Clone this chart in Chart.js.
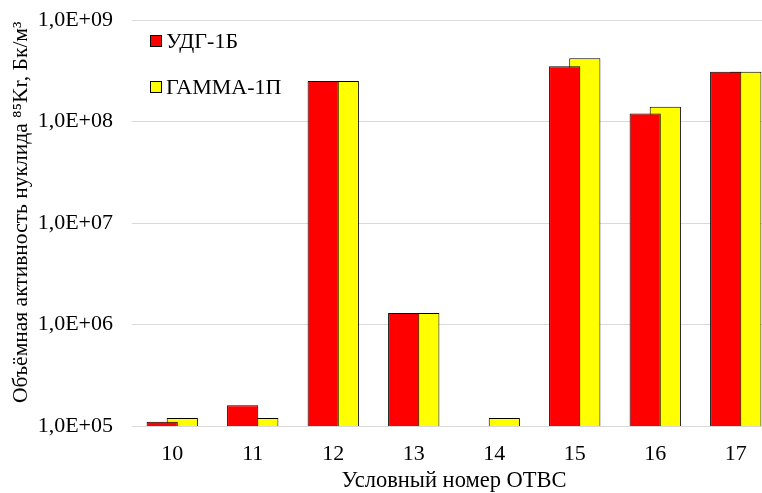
<!DOCTYPE html>
<html>
<head>
<meta charset="utf-8">
<script src="https://cdn.jsdelivr.net/npm/chart.js@4/dist/chart.umd.min.js"></script>
<style>
  html, body { margin: 0; padding: 0; background: #fff; overflow: hidden; }
  #wrap { width: 790px; height: 493px; position: relative; }
</style>
</head>
<body>
<div id="wrap"><canvas id="c"></canvas></div>
<script>
// Условные номера ОТВС
const categories = ['10', '11', '12', '13', '14', '15', '16', '17'];
// Объёмная активность 85Kr, Бк/м3
const udgValues   = [1.1e5, 1.6e5, 2.5e8, 1.3e6, 1.0e5, 3.5e8, 1.2e8, 3.1e8];
const gammaValues = [1.2e5, 1.2e5, 2.5e8, 1.3e6, 1.2e5, 4.2e8, 1.4e8, 3.1e8];
const seriesNames = ['УДГ-1Б', 'ГАММА-1П'];
// Деления логарифмической оси
const tickValues = [1e5, 1e6, 1e7, 1e8, 1e9];

const FONT = '"Liberation Serif", "Times New Roman", serif';
Chart.defaults.font.family = FONT;
Chart.defaults.color = '#000';

function fmtExp(v) {
  const e = Math.round(Math.log10(v));
  const m = v / Math.pow(10, e);
  return m.toFixed(1).replace('.', ',') + 'E+' + String(e).padStart(2, '0');
}

// Легенда в левом верхнем углу области построения, столбиком
const insideLegend = {
  id: 'insideLegend',
  afterDraw(chart) {
    const ctx = chart.ctx;
    const x0 = 150, y0 = 35, step = 46, box = 12;
    ctx.save();
    ctx.font = '22px ' + FONT;
    ctx.textBaseline = 'middle';
    chart.data.datasets.forEach((ds, i) => {
      const y = y0 + i * step;
      ctx.fillStyle = ds.backgroundColor;
      ctx.fillRect(x0, y, box, box);
      ctx.strokeStyle = '#000';
      ctx.lineWidth = 1;
      ctx.strokeRect(x0 + 0.5, y + 0.5, box - 1, box - 1);
      ctx.fillStyle = '#000';
      ctx.fillText(ds.label, x0 + 16, y + box / 2 + 1);
    });
    ctx.restore();
  }
};

new Chart(document.getElementById('c'), {
  type: 'bar',
  data: {
    labels: categories,
    datasets: [
      {
        label: seriesNames[0],
        data: udgValues,
        backgroundColor: '#ff0000',
        borderColor: '#000',
        borderWidth: 1,
        borderSkipped: 'bottom'
      },
      {
        label: seriesNames[1],
        data: gammaValues,
        backgroundColor: '#ffff00',
        borderColor: '#000',
        borderWidth: 1,
        borderSkipped: 'bottom'
      }
    ]
  },
  options: {
    responsive: true,
    maintainAspectRatio: false,
    animation: false,
    events: [],
    layout: { padding: { top: 20, right: 14, bottom: 0, left: 0 } },
    datasets: {
      bar: { categoryPercentage: 0.5, barPercentage: 1.55 }
    },
    plugins: {
      legend: { display: false },
      tooltip: { enabled: false }
    },
    scales: {
      x: {
        grid: { display: false, drawTicks: false },
        border: { display: false },
        ticks: { font: { size: 22 }, color: '#000', padding: 15 },
        title: {
          display: true,
          text: 'Условный номер ОТВС',
          font: { size: 22.5 },
          color: '#000',
          padding: { top: 0, bottom: -2 }
        },
        afterFit(scale) { scale.height = 67; }
      },
      y: {
        type: 'logarithmic',
        min: 1e5,
        max: 1e9,
        afterBuildTicks(scale) {
          scale.ticks = tickValues.map(v => ({ value: v }));
        },
        grid: { color: '#d9d9d9', lineWidth: 1, drawTicks: false },
        border: { display: false },
        ticks: {
          font: { size: 22 },
          color: '#000',
          padding: 19,
          callback: (v) => fmtExp(v)
        },
        title: {
          display: true,
          text: '    Объёмная активность нуклида ⁸⁵Kr, Бк/м³',
          font: { size: 21.5 },
          color: '#000',
          padding: { top: 8, bottom: 0 }
        },
        afterFit(scale) {
          scale.width = 132;
          scale.paddingTop = 0;
          scale.paddingBottom = 0;
        }
      }
    }
  },
  plugins: [insideLegend]
});
</script>
</body>
</html>
